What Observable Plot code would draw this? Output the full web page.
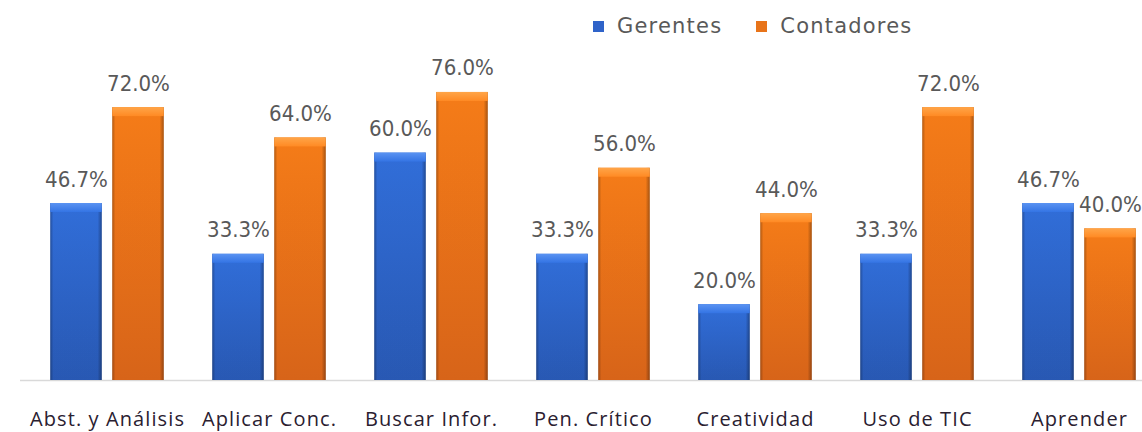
<!DOCTYPE html>
<html>
<head>
<meta charset="utf-8">
<script src="https://cdn.jsdelivr.net/npm/d3@7"></script>
<script src="https://cdn.jsdelivr.net/npm/@observablehq/plot@0.6"></script>
<style>
  html, body { margin: 0; padding: 0; background: #fff; }
  #wrap { position: relative; width: 1142px; height: 432px; overflow: hidden; }
  #legend { position: absolute; top: 14px; left: 593px; display: flex; align-items: center;
            font-family: "DejaVu Sans", sans-serif; font-size: 21px; color: #595959; letter-spacing: 1.2px; }
  .sw { width: 11px; height: 11px; display: inline-block; margin-right: 13px; }
  .item { display: flex; align-items: center; margin-right: 34px; }
  g[font-family="Open Sans"] text { letter-spacing: 1.1px; }
</style>
</head>
<body>
<div id="wrap"><div id="legend"></div></div>
<script>
const categories = ["Abst. y Análisis", "Aplicar Conc.", "Buscar Infor.", "Pen. Crítico", "Creatividad", "Uso de TIC", "Aprender"];
const series = ["Gerentes", "Contadores"];
const gerentes = [46.7, 33.3, 60.0, 33.3, 20.0, 33.3, 46.7];
const contadores = [72.0, 64.0, 76.0, 56.0, 44.0, 72.0, 40.0];

const rows = [];
categories.forEach((c, i) => {
  rows.push({cat: c, series: "Gerentes", value: gerentes[i]});
  rows.push({cat: c, series: "Contadores", value: contadores[i]});
});
const off = {Gerentes: -31, Contadores: 31};
const G = rows.filter(d => d.series === "Gerentes");
const C = rows.filter(d => d.series === "Contadores");

const barOpts = {insetLeft: 55.25, insetRight: 55.25};
function bars(data, s, fill, extra = {}) {
  return Plot.barY(data, {x: "cat", y: "value", dx: off[s], fill, ...barOpts, ...extra});
}
const valFont = {fill: "#595959", fontSize: 22, fontFamily: "DejaVu Sans Condensed"};

const chart = Plot.plot({
  width: 1142,
  height: 432,
  marginLeft: 20,
  marginRight: 0,
  marginTop: 0,
  marginBottom: 52,
  x: {domain: categories, range: [24, 1161.5], padding: 0, axis: null},
  y: {domain: [0, 100], range: [380, 1], axis: null},
  marks: [
    Plot.ruleY([0], {stroke: "#d9d9d9", strokeWidth: 1.5}),
    bars(G, "Gerentes", "url(#gBlue)"),
    bars(C, "Contadores", "url(#gOrange)"),
    bars(G, "Gerentes", "url(#gEdge)"),
    bars(C, "Contadores", "url(#gEdge)"),
    Plot.barY(G, {x: "cat", y1: "value", y2: "value", dx: off.Gerentes, fill: "url(#gBlueTop)", ...barOpts, insetBottom: -9}),
    Plot.barY(C, {x: "cat", y1: "value", y2: "value", dx: off.Contadores, fill: "url(#gOrangeTop)", ...barOpts, insetBottom: -9}),
    Plot.text(G, {x: "cat", y: "value", dx: off.Gerentes, dy: -17, lineAnchor: "bottom", text: d => d.value.toFixed(1) + "%", ...valFont}),
    Plot.text(C, {x: "cat", y: "value", dx: off.Contadores, dy: -17, lineAnchor: "bottom", text: d => d.value.toFixed(1) + "%", ...valFont}),
    Plot.text(categories, {x: d => d, y: 0, dy: 39, text: d => d, fill: "#2a2030", fontSize: 20, fontFamily: "Open Sans", lineAnchor: "middle"})
  ]
});

const defs = `
<defs>
  <linearGradient id="gBlue" x1="0" y1="0" x2="0" y2="1">
    <stop offset="0" stop-color="#3372e2"/><stop offset="1" stop-color="#2a5cba"/>
  </linearGradient>
  <linearGradient id="gOrange" x1="0" y1="0" x2="0" y2="1">
    <stop offset="0" stop-color="#ff8119"/><stop offset="1" stop-color="#e0681a"/>
  </linearGradient>
  <linearGradient id="gEdge" x1="0" y1="0" x2="1" y2="0">
    <stop offset="0" stop-color="#000" stop-opacity="0.3"/>
    <stop offset="0.06" stop-color="#000" stop-opacity="0.04"/>
    <stop offset="0.92" stop-color="#000" stop-opacity="0.04"/>
    <stop offset="1" stop-color="#000" stop-opacity="0.35"/>
  </linearGradient>
  <linearGradient id="gBlueTop" x1="0" y1="0" x2="0" y2="1">
    <stop offset="0" stop-color="#5a93f2"/><stop offset="1" stop-color="#3474e4"/>
  </linearGradient>
  <linearGradient id="gOrangeTop" x1="0" y1="0" x2="0" y2="1">
    <stop offset="0" stop-color="#ffa548"/><stop offset="1" stop-color="#ff8a24"/>
  </linearGradient>
</defs>`;
chart.insertAdjacentHTML("afterbegin", defs);
chart.style.position = "absolute";
chart.style.left = "0";
chart.style.top = "0";
chart.style.overflow = "hidden";
document.getElementById("wrap").prepend(chart);

const legend = document.getElementById("legend");
const colors = {Gerentes: "#2f63c9", Contadores: "#e8741a"};
series.forEach(s => {
  const it = document.createElement("div");
  it.className = "item";
  const sw = document.createElement("span");
  sw.className = "sw";
  sw.style.background = colors[s];
  it.appendChild(sw);
  it.appendChild(document.createTextNode(s));
  legend.appendChild(it);
});
</script>
</body>
</html>
